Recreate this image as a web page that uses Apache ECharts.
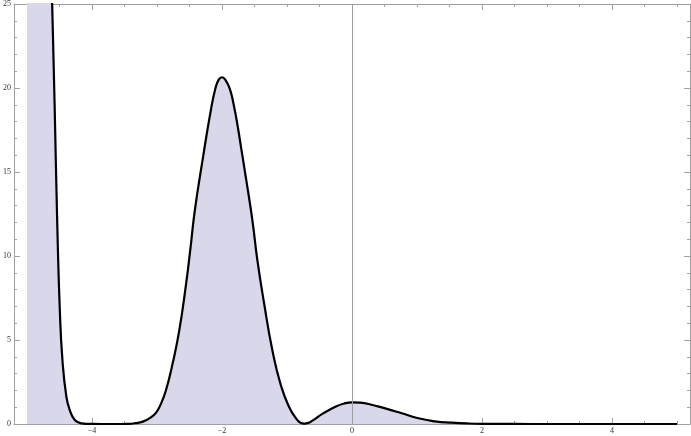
<!DOCTYPE html>
<html>
<head>
<meta charset="utf-8">
<script src="https://cdn.jsdelivr.net/npm/echarts@6/dist/echarts.min.js"></script>
<style>html,body{margin:0;padding:0;background:#fff}#c{width:691px;height:436px}</style>
</head>
<body>
<div id="c"></div>
<script>
// Curve samples
const xs = [-5.0, -4.8, -4.7, -4.65, -4.613, -4.575, -4.536, -4.495, -4.455, -4.394, -4.342, -4.265, -4.164, -4.0, -3.7, -3.45, -3.33, -3.218, -3.10, -3.014, -2.94, -2.861, -2.759, -2.656, -2.554, -2.49, -2.417, -2.299, -2.171, -2.1, -2.05, -2.0, -1.95, -1.88, -1.82, -1.762, -1.70, -1.635, -1.533, -1.456, -1.353, -1.226, -1.098, -0.97, -0.843, -0.79, -0.74, -0.69, -0.64, -0.562, -0.45, -0.255, -0.12, 0.0, 0.12, 0.255, 0.51, 0.766, 1.02, 1.277, 1.53, 1.79, 2.04, 2.5, 3.0, 4.0, 5.0];
const ys = [150, 60, 38, 31, 25, 19.0, 12.14, 6.79, 3.81, 1.61, 0.83, 0.24, 0.04, 0.005, 0, 0.01, 0.05, 0.14, 0.38, 0.68, 1.2, 2.02, 3.61, 5.6, 8.3, 10.3, 12.74, 15.71, 18.69, 20.0, 20.5, 20.64, 20.5, 19.95, 19.0, 17.8, 16.3, 14.72, 12.14, 9.75, 7.2, 4.4, 2.35, 1.03, 0.24, 0.07, 0.02, 0.05, 0.12, 0.32, 0.62, 1.03, 1.22, 1.29, 1.27, 1.19, 0.93, 0.64, 0.34, 0.16, 0.08, 0.03, 0.01, 0.002, 0, 0, 0];

const xMajorTicks = [-4, -2, 0, 2, 4];
const xMinorTicks = [-5, -4.5, -3.5, -3, -2.5, -1.5, -1, -0.5, 0.5, 1, 1.5, 2.5, 3, 3.5, 4.5, 5];
const yMajorTicks = [0, 5, 10, 15, 20, 25];
const yMinorTicks = [1, 2, 3, 4, 6, 7, 8, 9, 11, 12, 13, 14, 16, 17, 18, 19, 21, 22, 23, 24];

const frameColor = '#a0a0a0';
const labelStyle = { fontFamily: 'Liberation Serif', fontSize: 8, color: '#333' };

function mkX(pos, ticks, len, showLine, showLabel) {
  return {
    type: 'value', position: pos, min: -5.2, max: 5.2, gridIndex: 0,
    axisLine: { show: showLine, onZero: false, lineStyle: { color: frameColor, width: 1 } },
    axisTick: { show: true, inside: true, length: len, customValues: ticks, lineStyle: { color: frameColor, width: 1 } },
    axisLabel: showLabel ? Object.assign({ show: true, margin: 3, customValues: ticks,
      formatter: v => String(v).replace('-', '\u2212') }, labelStyle) : { show: false },
    splitLine: { show: false }
  };
}
function mkY(pos, ticks, len, showLine, showLabel) {
  return {
    type: 'value', position: pos, min: 0, max: 25, gridIndex: 0,
    axisLine: { show: showLine, onZero: false, lineStyle: { color: frameColor, width: 1 } },
    axisTick: { show: true, inside: true, length: len, customValues: ticks, lineStyle: { color: frameColor, width: 1 } },
    axisLabel: showLabel ? Object.assign({ show: true, margin: 3, customValues: ticks }, labelStyle) : { show: false },
    splitLine: { show: false }
  };
}

const chart = echarts.init(document.getElementById('c'), null, { renderer: 'canvas' });
chart.setOption({
  animation: false,
  backgroundColor: '#fff',
  grid: { left: 11, right: 1, top: 4, bottom: 12 },
  xAxis: [
    mkX('bottom', xMajorTicks, 6, true, true),
    mkX('bottom', xMinorTicks, 3, false, false),
    mkX('top', xMajorTicks, 6, true, false),
    mkX('top', xMinorTicks, 3, false, false)
  ],
  yAxis: [
    mkY('left', yMajorTicks, 6, true, true),
    mkY('left', yMinorTicks, 3, false, false),
    mkY('right', yMajorTicks, 6, true, false),
    mkY('right', yMinorTicks, 3, false, false)
  ],
  series: [{
    type: 'line',
    xAxisIndex: 0, yAxisIndex: 0,
    data: xs.map((x, i) => [x, ys[i]]),
    showSymbol: false,
    smooth: 0.5,
    clip: true,
    lineStyle: { color: '#000', width: 2.2 },
    areaStyle: { color: '#d8d8ea', opacity: 1 },
    z: 3,
    markLine: {
      silent: true, symbol: 'none', label: { show: false },
      lineStyle: { color: '#a0a0a0', width: 1, type: 'solid' },
      data: [{ xAxis: 0 }]
    }
  }]
});
</script>
</body>
</html>
